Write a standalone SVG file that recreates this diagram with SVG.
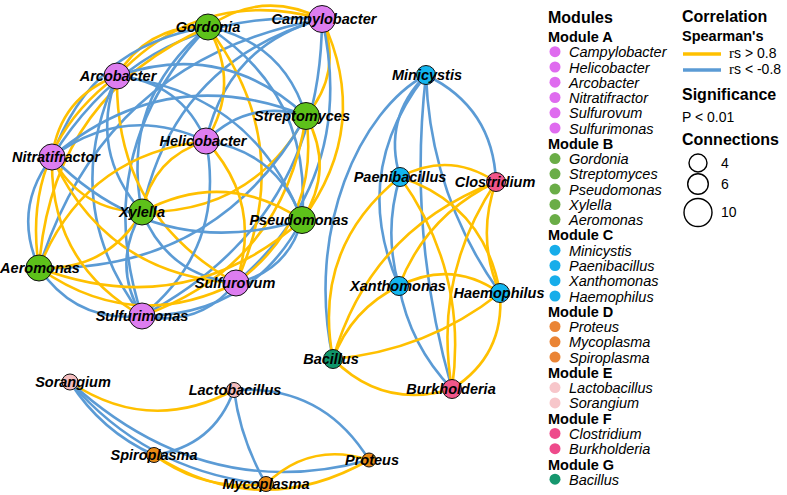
<svg xmlns="http://www.w3.org/2000/svg" width="787" height="495" viewBox="0 0 787 495">
<style>
.e{fill:none;stroke-width:2.6}
.y{stroke:#FFC000}
.b{stroke:#5B9BD5}
.n{stroke:#111;stroke-width:1}
.lb{font-family:"Liberation Sans",Arial,sans-serif;font-weight:bold;font-style:italic;font-size:14.5px;fill:#000;text-anchor:middle}
.A{fill:#DD7DF0}.B{fill:#5DC11A}.C{fill:#13B5EE}.D{fill:#E98A13}.E{fill:#F4BDBE}.F{fill:#F1568A}.G{fill:#10966B}
.t{font-family:"Liberation Sans",Arial,sans-serif;font-weight:bold;font-size:16px;fill:#000}
.h{font-family:"Liberation Sans",Arial,sans-serif;font-weight:bold;font-size:14.5px;fill:#000}
.i{font-family:"Liberation Sans",Arial,sans-serif;font-style:italic;font-size:14.5px;fill:#000}
.r{font-family:"Liberation Sans",Arial,sans-serif;font-size:14px;fill:#000}
.lA{fill:#DF6BEF}.lB{fill:#6AAD47}.lC{fill:#17ADEA}.lD{fill:#EA8435}.lE{fill:#F7C6CA}.lF{fill:#EE4A8B}.lG{fill:#16976E}
</style>
<rect width="787" height="495" fill="#fff"/>
<g id="connectors">
<path class="e y" d="M322 19 Q262.6 -11.2 208 27"/>
<path class="e y" d="M322 19 Q202.4 -14 117 76"/>
<path class="e y" d="M322 19 Q343.1 72.3 306 116"/>
<path class="e b" d="M322 19 Q227.4 45.2 206 141"/>
<path class="e b" d="M322 19 Q145.6 7 52 157"/>
<path class="e b" d="M322 19 Q174.1 61.5 142 212"/>
<path class="e y" d="M322 19 Q372.3 125.5 302 220"/>
<path class="e b" d="M322 19 Q105.8 58.6 39 268"/>
<path class="e b" d="M322 19 Q358.2 176.8 236 283"/>
<path class="e b" d="M322 19 Q321.1 221.5 142 316"/>
<path class="e y" d="M208 27 Q147.8 24.2 117 76"/>
<path class="e b" d="M208 27 Q283.7 42.1 306 116"/>
<path class="e y" d="M208 27 Q241.2 84.6 206 141"/>
<path class="e b" d="M208 27 Q91 45.2 52 157"/>
<path class="e b" d="M208 27 Q119.5 99.7 142 212"/>
<path class="e b" d="M208 27 Q312.9 95.3 302 220"/>
<path class="e y" d="M208 27 Q51.2 96.8 39 268"/>
<path class="e y" d="M208 27 Q298.8 146.6 236 283"/>
<path class="e b" d="M208 27 Q88.3 151.7 142 316"/>
<path class="e b" d="M117 76 Q223.5 39.3 306 116"/>
<path class="e b" d="M117 76 Q181 81.8 206 141"/>
<path class="e y" d="M117 76 Q60.2 97 52 157"/>
<path class="e b" d="M117 76 Q88.7 151.5 142 212"/>
<path class="e b" d="M117 76 Q252.7 92.5 302 220"/>
<path class="e y" d="M117 76 Q20.4 148.6 39 268"/>
<path class="e y" d="M117 76 Q114.4 215.2 236 283"/>
<path class="e b" d="M117 76 Q57.5 203.5 142 316"/>
<path class="e b" d="M306 116 Q248.5 98.5 206 141"/>
<path class="e b" d="M306 116 Q166.7 60.3 52 157"/>
<path class="e y" d="M306 116 Q252.8 213.2 142 212"/>
<path class="e y" d="M306 116 Q335.2 169.2 302 220"/>
<path class="e b" d="M306 116 Q218.1 272.1 39 268"/>
<path class="e y" d="M306 116 Q321.1 220.5 236 283"/>
<path class="e y" d="M306 116 Q284 265.2 142 316"/>
<path class="e b" d="M206 141 Q124.2 102.8 52 157"/>
<path class="e y" d="M206 141 Q152.7 157.3 142 212"/>
<path class="e b" d="M206 141 Q277.7 151.7 302 220"/>
<path class="e y" d="M206 141 Q84.4 154.4 39 268"/>
<path class="e y" d="M206 141 Q263.6 203 236 283"/>
<path class="e b" d="M206 141 Q226.5 247.7 142 316"/>
<path class="e y" d="M52 157 Q80.5 211.5 142 212"/>
<path class="e b" d="M52 157 Q158.1 263.5 302 220"/>
<path class="e b" d="M52 157 Q12.2 208.6 39 268"/>
<path class="e y" d="M52 157 Q106.2 275.2 236 283"/>
<path class="e y" d="M52 157 Q49.3 263.5 142 316"/>
<path class="e y" d="M142 212 Q224.4 168 302 220"/>
<path class="e y" d="M142 212 Q107.3 270.9 39 268"/>
<path class="e b" d="M142 212 Q167.7 275.7 236 283"/>
<path class="e b" d="M142 212 Q110.8 264 142 316"/>
<path class="e y" d="M302 220 Q184.9 322.9 39 268"/>
<path class="e b" d="M302 220 Q287.9 271.3 236 283"/>
<path class="e b" d="M302 220 Q250.8 316 142 316"/>
<path class="e y" d="M39 268 Q133 334.6 236 283"/>
<path class="e b" d="M39 268 Q76.1 322.9 142 316"/>
<path class="e b" d="M236 283 Q198.9 327.7 142 316"/>
<path class="e b" d="M426 75 Q382.4 118.2 400 177"/>
<path class="e b" d="M426 75 Q493.1 107.5 496 182"/>
<path class="e b" d="M426 75 Q349.2 172.4 399 286"/>
<path class="e b" d="M426 75 Q430.3 195.1 500 293"/>
<path class="e b" d="M426 75 C360 110 305 230 333 359"/>
<path class="e b" d="M426 75 Q407.6 234.6 452 389"/>
<path class="e y" d="M400 177 Q449.5 150.7 496 182"/>
<path class="e b" d="M400 177 Q383.2 231.4 399 286"/>
<path class="e y" d="M400 177 Q484.8 205 500 293"/>
<path class="e y" d="M400 177 Q311.9 247.9 333 359"/>
<path class="e y" d="M400 177 Q468.4 272.6 452 389"/>
<path class="e y" d="M496 182 Q426.7 214.6 399 286"/>
<path class="e y" d="M496 182 Q475.8 238.3 500 293"/>
<path class="e y" d="M496 182 Q370.2 229.7 333 359"/>
<path class="e y" d="M496 182 Q432.6 276.7 452 389"/>
<path class="e y" d="M399 286 Q451.6 259.2 500 293"/>
<path class="e y" d="M399 286 Q351.4 309.3 333 359"/>
<path class="e b" d="M399 286 Q410 345.5 452 389"/>
<path class="e y" d="M500 293 Q426.4 351 333 359"/>
<path class="e y" d="M500 293 Q504.8 355.4 452 389"/>
<path class="e y" d="M333 359 Q383.5 409.7 452 389"/>
<path class="e y" d="M70 382 Q149.6 435.2 234 390"/>
<path class="e b" d="M70 382 Q101 431 154 455"/>
<path class="e b" d="M70 382 Q147.6 472.2 266 484"/>
<path class="e b" d="M70 382 Q205 505 369 460"/>
<path class="e b" d="M234 390 Q213.5 446.5 154 455"/>
<path class="e b" d="M234 390 Q240.6 440.2 266 484"/>
<path class="e b" d="M234 390 Q322.5 384.5 369 460"/>
<path class="e y" d="M154 455 Q204.2 491.9 266 484"/>
<path class="e y" d="M154 455 Q260 522 369 460"/>
<path class="e y" d="M266 484 Q310.3 441.1 369 460"/>
</g>
<g id="node-gordonia"><circle class="n B" cx="208" cy="27" r="13"/><text class="lb" x="208" y="32">Gordonia</text></g>
<g id="node-campylobacter"><circle class="n A" cx="322" cy="19" r="13.5"/><text class="lb" x="324" y="24">Campylobacter</text></g>
<g id="node-arcobacter"><circle class="n A" cx="117" cy="76" r="13"/><text class="lb" x="118" y="81">Arcobacter</text></g>
<g id="node-streptomyces"><circle class="n B" cx="306" cy="116" r="13.5"/><text class="lb" x="302" y="121">Streptomyces</text></g>
<g id="node-helicobacter"><circle class="n A" cx="206" cy="141" r="13"/><text class="lb" x="203" y="146">Helicobacter</text></g>
<g id="node-nitratifractor"><circle class="n A" cx="52" cy="157" r="13"/><text class="lb" x="56" y="162">Nitratifractor</text></g>
<g id="node-xylella"><circle class="n B" cx="142" cy="212" r="13"/><text class="lb" x="142" y="217">Xylella</text></g>
<g id="node-pseudomonas"><circle class="n B" cx="302" cy="220" r="13.5"/><text class="lb" x="299" y="225">Pseudomonas</text></g>
<g id="node-aeromonas"><circle class="n B" cx="39" cy="268" r="13"/><text class="lb" x="40" y="273">Aeromonas</text></g>
<g id="node-sulfurovum"><circle class="n A" cx="236" cy="283" r="13"/><text class="lb" x="235" y="288">Sulfurovum</text></g>
<g id="node-sulfurimonas"><circle class="n A" cx="142" cy="316" r="13"/><text class="lb" x="142" y="321">Sulfurimonas</text></g>
<g id="node-minicystis"><circle class="n C" cx="426" cy="75" r="9.5"/><text class="lb" x="427" y="80">Minicystis</text></g>
<g id="node-paenibacillus"><circle class="n C" cx="400" cy="177" r="9.5"/><text class="lb" x="400" y="182">Paenibacillus</text></g>
<g id="node-clostridium"><circle class="n F" cx="496" cy="182" r="9.5"/><text class="lb" x="495" y="187">Clostridium</text></g>
<g id="node-xanthomonas"><circle class="n C" cx="399" cy="286" r="9.5"/><text class="lb" x="398" y="291">Xanthomonas</text></g>
<g id="node-haemophilus"><circle class="n C" cx="500" cy="293" r="9.5"/><text class="lb" x="499" y="298">Haemophilus</text></g>
<g id="node-bacillus"><circle class="n G" cx="333" cy="359" r="9.5"/><text class="lb" x="331" y="364">Bacillus</text></g>
<g id="node-burkholderia"><circle class="n F" cx="452" cy="389" r="9.5"/><text class="lb" x="451" y="394">Burkholderia</text></g>
<g id="node-sorangium"><circle class="n E" cx="70" cy="382" r="8"/><text class="lb" x="73" y="387">Sorangium</text></g>
<g id="node-lactobacillus"><circle class="n E" cx="234" cy="390" r="7.5"/><text class="lb" x="235" y="395">Lactobacillus</text></g>
<g id="node-spiroplasma"><circle class="n D" cx="154" cy="455" r="7.5"/><text class="lb" x="154" y="460">Spiroplasma</text></g>
<g id="node-proteus"><circle class="n D" cx="369" cy="460" r="7"/><text class="lb" x="372" y="465">Proteus</text></g>
<g id="node-mycoplasma"><circle class="n D" cx="266" cy="484" r="7.5"/><text class="lb" x="266" y="489">Mycoplasma</text></g>
<g id="legend-modules">
<text class="t" x="548" y="23">Modules</text>
<text class="h" x="548" y="41.9">Module A</text>
<circle class="lA" cx="555" cy="51.7" r="5.5"/><text class="i" x="569" y="57.2">Campylobacter</text>
<circle class="lA" cx="555" cy="67" r="5.5"/><text class="i" x="569" y="72.5">Helicobacter</text>
<circle class="lA" cx="555" cy="82.2" r="5.5"/><text class="i" x="569" y="87.7">Arcobacter</text>
<circle class="lA" cx="555" cy="97.5" r="5.5"/><text class="i" x="569" y="103">Nitratifractor</text>
<circle class="lA" cx="555" cy="112.8" r="5.5"/><text class="i" x="569" y="118.3">Sulfurovum</text>
<circle class="lA" cx="555" cy="128" r="5.5"/><text class="i" x="569" y="133.5">Sulfurimonas</text>
<text class="h" x="548" y="148.8">Module B</text>
<circle class="lB" cx="555" cy="158.6" r="5.5"/><text class="i" x="569" y="164.1">Gordonia</text>
<circle class="lB" cx="555" cy="173.8" r="5.5"/><text class="i" x="569" y="179.3">Streptomyces</text>
<circle class="lB" cx="555" cy="189.1" r="5.5"/><text class="i" x="569" y="194.6">Pseudomonas</text>
<circle class="lB" cx="555" cy="204.4" r="5.5"/><text class="i" x="569" y="209.9">Xylella</text>
<circle class="lB" cx="555" cy="219.6" r="5.5"/><text class="i" x="569" y="225.1">Aeromonas</text>
<text class="h" x="548" y="240.4">Module C</text>
<circle class="lC" cx="555" cy="250.2" r="5.5"/><text class="i" x="569" y="255.7">Minicystis</text>
<circle class="lC" cx="555" cy="265.5" r="5.5"/><text class="i" x="569" y="271">Paenibacillus</text>
<circle class="lC" cx="555" cy="280.7" r="5.5"/><text class="i" x="569" y="286.2">Xanthomonas</text>
<circle class="lC" cx="555" cy="296" r="5.5"/><text class="i" x="569" y="301.5">Haemophilus</text>
<text class="h" x="548" y="316.8">Module D</text>
<circle class="lD" cx="555" cy="326.5" r="5.5"/><text class="i" x="569" y="332">Proteus</text>
<circle class="lD" cx="555" cy="341.8" r="5.5"/><text class="i" x="569" y="347.3">Mycoplasma</text>
<circle class="lD" cx="555" cy="357.1" r="5.5"/><text class="i" x="569" y="362.6">Spiroplasma</text>
<text class="h" x="548" y="377.8">Module E</text>
<circle class="lE" cx="555" cy="387.6" r="5.5"/><text class="i" x="569" y="393.1">Lactobacillus</text>
<circle class="lE" cx="555" cy="402.9" r="5.5"/><text class="i" x="569" y="408.4">Sorangium</text>
<text class="h" x="548" y="423.7">Module F</text>
<circle class="lF" cx="555" cy="433.4" r="5.5"/><text class="i" x="569" y="438.9">Clostridium</text>
<circle class="lF" cx="555" cy="448.7" r="5.5"/><text class="i" x="569" y="454.2">Burkholderia</text>
<text class="h" x="548" y="469.5">Module G</text>
<circle class="lG" cx="555" cy="479.2" r="5.5"/><text class="i" x="569" y="484.7">Bacillus</text>
</g>
<g id="legend-correlation">
<text class="t" x="682" y="22">Correlation</text>
<text class="h" x="682" y="41">Spearman's</text>
<line x1="683" y1="54" x2="721" y2="54" stroke="#FFC000" stroke-width="3.4"/>
<line x1="683" y1="70" x2="721" y2="70" stroke="#5B9BD5" stroke-width="3.4"/>
<text class="r" x="729" y="58"><tspan font-family="Liberation Serif" font-size="15">r</tspan>s &gt; 0.8</text>
<text class="r" x="729" y="74"><tspan font-family="Liberation Serif" font-size="15">r</tspan>s &lt; -0.8</text>
</g>
<g id="legend-significance">
<text class="t" x="682" y="100">Significance</text>
<text class="r" x="682" y="122">P &lt; 0.01</text>
</g>
<g id="legend-connections">
<text class="t" x="682" y="145">Connections</text>
<circle cx="698" cy="163" r="9" fill="none" stroke="#000" stroke-width="1.4"/>
<circle cx="698" cy="184" r="10.3" fill="none" stroke="#000" stroke-width="1.4"/>
<circle cx="698" cy="212.5" r="14" fill="none" stroke="#000" stroke-width="1.4"/>
<text class="r" x="721" y="168">4</text>
<text class="r" x="721" y="189">6</text>
<text class="r" x="721" y="217">10</text>
</g>
</svg>
